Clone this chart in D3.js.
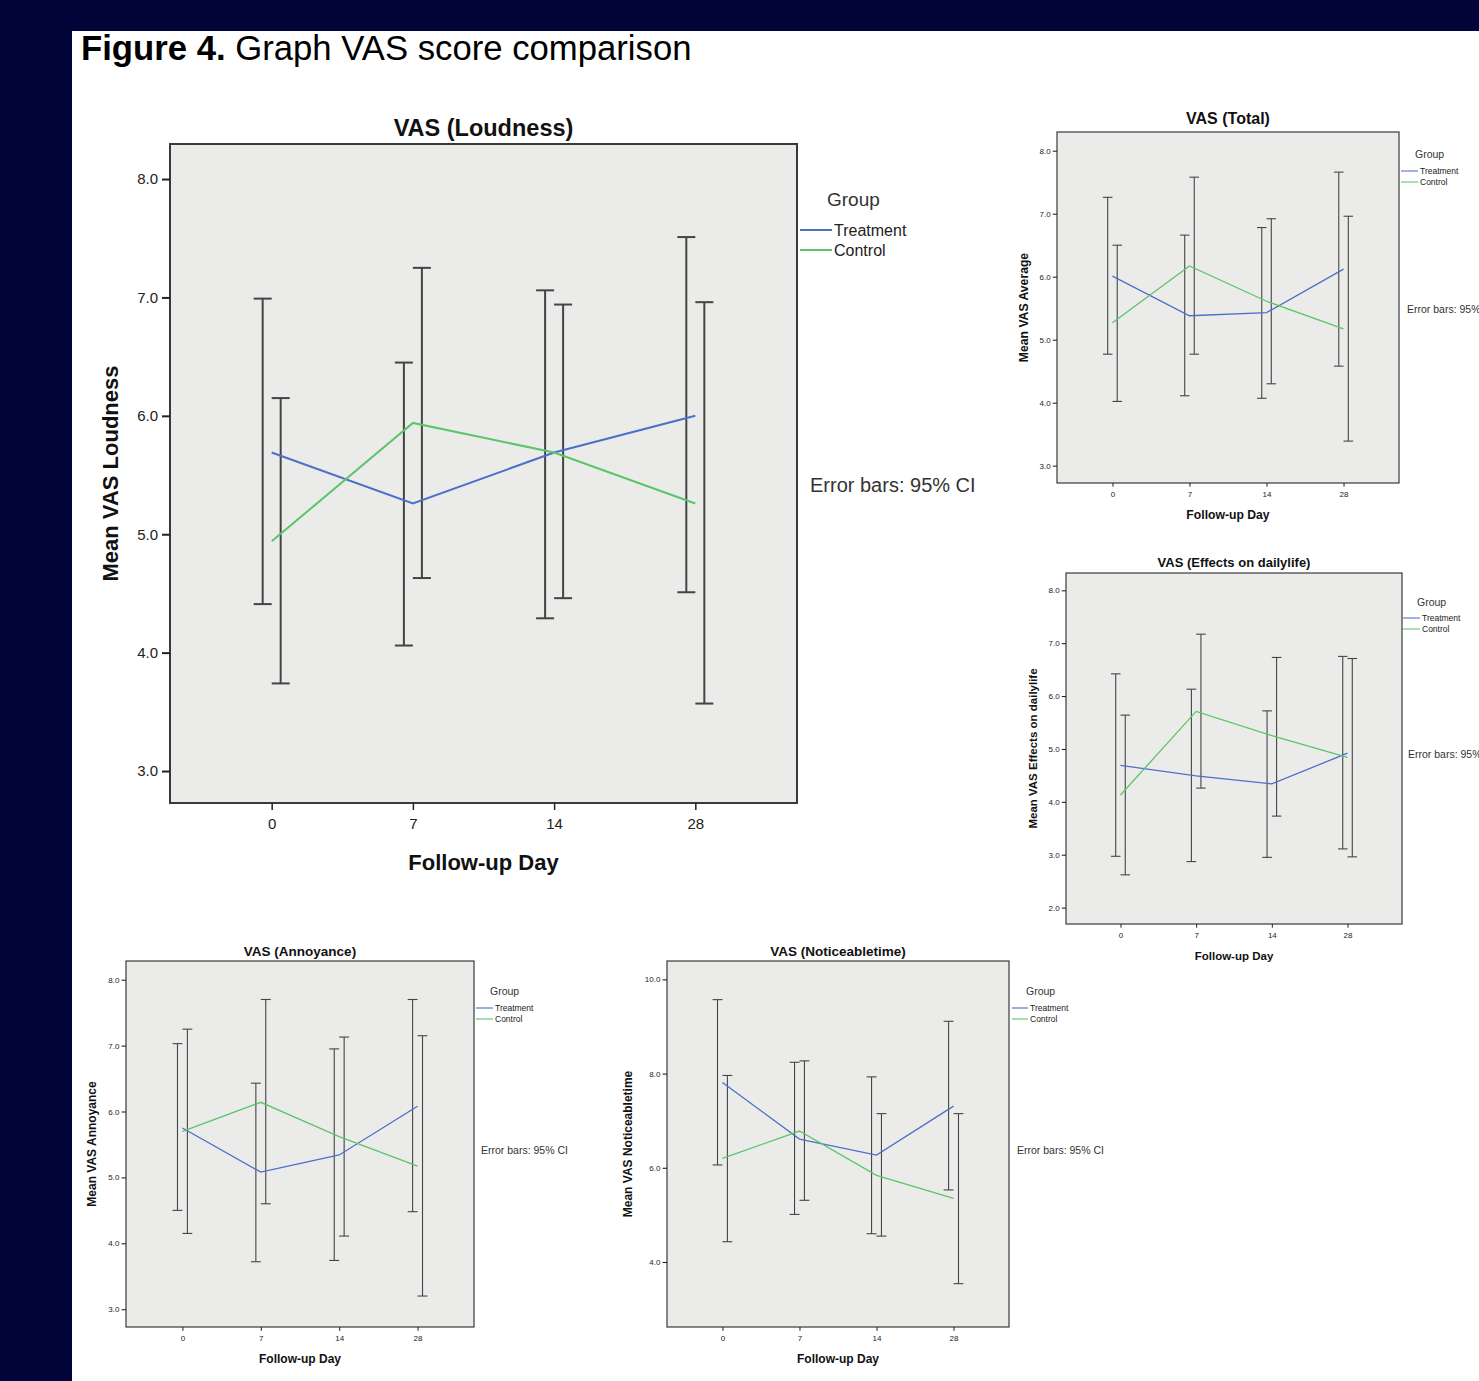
<!DOCTYPE html>
<html><head><meta charset="utf-8">
<script src="https://cdn.jsdelivr.net/npm/d3@7"></script>
<style>body{margin:0;background:#fff;} svg{display:block;font-family:"Liberation Sans",Arial,sans-serif;}</style>
</head><body><svg id="c" width="1479" height="1381"></svg>
<script>
// ---------- data ----------
const days = ["0","7","14","28"];
const groups = ["Treatment","Control"];
const ticks3to8 = [3,4,5,6,7,8];
const ticks2to8 = [2,3,4,5,6,7,8];
const ticks4to10 = [4,6,8,10];

// VAS (Loudness)
const loudTreatMean = [5.69, 5.26, 5.69, 6.00];
const loudTreatLow  = [4.41, 4.06, 4.29, 4.51];
const loudTreatHigh = [6.99, 6.45, 7.06, 7.51];
const loudCtrlMean  = [4.94, 5.94, 5.69, 5.26];
const loudCtrlLow   = [3.74, 4.63, 4.46, 3.57];
const loudCtrlHigh  = [6.15, 7.25, 6.94, 6.96];

// VAS (Total)
const totTreatMean = [6.01, 5.38, 5.43, 6.12];
const totTreatLow  = [4.77, 4.11, 4.07, 4.58];
const totTreatHigh = [7.26, 6.66, 6.78, 7.66];
const totCtrlMean  = [5.27, 6.17, 5.61, 5.17];
const totCtrlLow   = [4.02, 4.77, 4.30, 3.39];
const totCtrlHigh  = [6.50, 7.58, 6.92, 6.96];

// VAS (Effects on dailylife)
const effTreatMean = [4.69, 4.49, 4.34, 4.92];
const effTreatLow  = [2.97, 2.87, 2.95, 3.11];
const effTreatHigh = [6.42, 6.13, 5.72, 6.75];
const effCtrlMean  = [4.13, 5.71, 5.25, 4.84];
const effCtrlLow   = [2.62, 4.26, 3.73, 2.96];
const effCtrlHigh  = [5.64, 7.17, 6.73, 6.71];

// VAS (Annoyance)
const annTreatMean = [5.75, 5.08, 5.34, 6.08];
const annTreatLow  = [4.50, 3.72, 3.74, 4.48];
const annTreatHigh = [7.03, 6.43, 6.95, 7.70];
const annCtrlMean  = [5.70, 6.14, 5.62, 5.17];
const annCtrlLow   = [4.15, 4.60, 4.11, 3.20];
const annCtrlHigh  = [7.25, 7.70, 7.13, 7.15];

// VAS (Noticeabletime)
const notTreatMean = [7.81, 6.61, 6.27, 7.31];
const notTreatLow  = [6.06, 5.01, 4.60, 5.53];
const notTreatHigh = [9.57, 8.24, 7.93, 9.11];
const notCtrlMean  = [6.20, 6.78, 5.84, 5.35];
const notCtrlLow   = [4.43, 5.31, 4.55, 3.54];
const notCtrlHigh  = [7.96, 8.27, 7.15, 7.15];

// ---------- style ----------
const BLUE = "#4d6ec9", GREEN = "#5cc46b", NAVY = "#01053a";
const svg = d3.select("#c");

svg.append("rect").attr("x",0).attr("y",0).attr("width",1479).attr("height",1381).attr("fill","#fff");
svg.append("rect").attr("x",0).attr("y",0).attr("width",1479).attr("height",31).attr("fill",NAVY);
svg.append("rect").attr("x",0).attr("y",0).attr("width",72).attr("height",1381).attr("fill",NAVY);
const hdr = svg.append("text").attr("x",81).attr("y",60).attr("font-size",34.7).attr("fill","#000");
hdr.append("tspan").attr("font-weight","bold").text("Figure 4.");
hdr.append("tspan").text(" Graph VAS score comparison");

function drawPanel(p){
  const s = p.s;
  const g = svg.append("g");
  const x = d3.scalePoint().domain(days).range([p.x, p.x+p.w]).padding(0.72);
  const y = d3.scaleLinear().domain(p.domain).range([p.y+p.h, p.y]);

  g.append("rect").attr("x",p.x).attr("y",p.y).attr("width",p.w).attr("height",p.h)
    .attr("fill","#ebecea").attr("stroke","#3a3a3a").attr("stroke-width",Math.max(1.2,2*s));

  const ya = g.append("g").attr("transform",`translate(${p.x},0)`)
    .call(d3.axisLeft(y).tickValues(p.ticks).tickFormat(d3.format(".1f")).tickSize(8*s).tickPadding(4*s));
  ya.select(".domain").remove();
  ya.selectAll("line").attr("stroke","#222").attr("stroke-width",Math.max(1,2*s));
  ya.selectAll("text").attr("font-size",p.tick).attr("fill","#222").attr("font-family","Liberation Sans, Arial, sans-serif");

  const xa = g.append("g").attr("transform",`translate(0,${p.y+p.h})`)
    .call(d3.axisBottom(x).tickSize(7*s).tickPadding(8*s));
  xa.select(".domain").remove();
  xa.selectAll("line").attr("stroke","#222").attr("stroke-width",Math.max(1,1.5*s));
  xa.selectAll("text").attr("font-size",p.tick).attr("fill","#222").attr("font-family","Liberation Sans, Arial, sans-serif");

  const series = [
    {name:groups[0], mean:p.tm, lo:p.tl, hi:p.th, color:BLUE, off:-9*s},
    {name:groups[1], mean:p.cm, lo:p.cl, hi:p.ch, color:GREEN, off:9*s}
  ];
  const cap = 9*s;
  series.forEach(se=>{
    days.forEach((d,i)=>{
      const cx = x(d)+se.off;
      const eb = g.append("g").attr("stroke","#444").attr("stroke-width",Math.max(1.1,2*s));
      eb.append("line").attr("x1",cx).attr("x2",cx).attr("y1",y(se.lo[i])).attr("y2",y(se.hi[i]));
      eb.append("line").attr("x1",cx-cap).attr("x2",cx+cap).attr("y1",y(se.lo[i])).attr("y2",y(se.lo[i]));
      eb.append("line").attr("x1",cx-cap).attr("x2",cx+cap).attr("y1",y(se.hi[i])).attr("y2",y(se.hi[i]));
    });
  });
  const line = d3.line().x((v,i)=>x(days[i])).y(v=>y(v));
  series.forEach(se=>{
    g.append("path").datum(se.mean).attr("d",line).attr("fill","none")
      .attr("stroke",se.color).attr("stroke-width",Math.max(1.3,2*s));
  });

  // title & axis labels
  g.append("text").attr("x",p.x+p.w/2).attr("y",p.y-p.titleOff).attr("text-anchor","middle")
    .attr("font-size",p.titleSize).attr("font-weight","bold").attr("fill","#111").text(p.title);
  g.append("text").attr("transform",`translate(${p.x-p.ylabOff},${p.y+p.h/2}) rotate(-90)`)
    .attr("text-anchor","middle").attr("dominant-baseline","central")
    .attr("font-size",p.labSize).attr("font-weight","bold").attr("fill","#111").text(p.ylab);
  g.append("text").attr("x",p.x+p.w/2).attr("y",p.y+p.h+p.xlabOff).attr("text-anchor","middle")
    .attr("dominant-baseline","central")
    .attr("font-size",p.labSize).attr("font-weight","bold").attr("fill","#111").text("Follow-up Day");

  // legend
  const L = p.leg;
  g.append("text").attr("x",L.gx).attr("y",L.gy).attr("dominant-baseline","central")
    .attr("font-size",L.gsize).attr("fill","#333").text("Group");
  series.forEach((se,i)=>{
    const ly = L.ly + i*L.step;
    g.append("line").attr("x1",L.lx1).attr("x2",L.lx2).attr("y1",ly).attr("y2",ly)
      .attr("stroke",se.color).attr("stroke-width",Math.max(1,2*s));
    g.append("text").attr("x",L.lx2+2).attr("y",ly).attr("dominant-baseline","central")
      .attr("font-size",L.isize).attr("fill","#222").text(se.name);
  });
  g.append("text").attr("x",L.ex).attr("y",L.ey).attr("dominant-baseline","central")
    .attr("font-size",L.esize).attr("fill","#333").text("Error bars: 95% CI");
}

// Main: VAS (Loudness)
drawPanel({x:170,y:144,w:627,h:659,s:1,domain:[2.73,8.296],ticks:ticks3to8,tick:15,
  title:"VAS (Loudness)",titleSize:23.5,titleOff:8,ylab:"Mean VAS Loudness",ylabOff:60,xlabOff:59,labSize:22,
  tm:loudTreatMean,tl:loudTreatLow,th:loudTreatHigh,cm:loudCtrlMean,cl:loudCtrlLow,ch:loudCtrlHigh,
  leg:{gx:827,gy:199,gsize:19,lx1:800,lx2:832,ly:230,step:20,isize:16,ex:810,ey:485,esize:20}});

// VAS (Total)
drawPanel({x:1057,y:132,w:342,h:351,s:0.53,domain:[2.725,8.297],ticks:ticks3to8,tick:8,
  title:"VAS (Total)",titleSize:16,titleOff:8,ylab:"Mean VAS Average",ylabOff:33,xlabOff:32,labSize:12.2,
  tm:totTreatMean,tl:totTreatLow,th:totTreatHigh,cm:totCtrlMean,cl:totCtrlLow,ch:totCtrlHigh,
  leg:{gx:1415,gy:154,gsize:10.5,lx1:1401,lx2:1418,ly:171,step:11,isize:8.5,ex:1407,ey:309,esize:10.5}});

// VAS (Effects on dailylife)
drawPanel({x:1066,y:573,w:336,h:351,s:0.53,domain:[1.69,8.327],ticks:ticks2to8,tick:8,
  title:"VAS (Effects on dailylife)",titleSize:13,titleOff:6,ylab:"Mean VAS Effects on dailylife",ylabOff:33,xlabOff:32,labSize:11.5,
  tm:effTreatMean,tl:effTreatLow,th:effTreatHigh,cm:effCtrlMean,cl:effCtrlLow,ch:effCtrlHigh,
  leg:{gx:1417,gy:602,gsize:10.5,lx1:1403,lx2:1420,ly:618,step:11,isize:8.5,ex:1408,ey:754,esize:10.5}});

// VAS (Annoyance)
drawPanel({x:126,y:961,w:348,h:366,s:0.55,domain:[2.73,8.284],ticks:ticks3to8,tick:8,
  title:"VAS (Annoyance)",titleSize:13.5,titleOff:5,ylab:"Mean VAS Annoyance",ylabOff:34,xlabOff:32,labSize:12,
  tm:annTreatMean,tl:annTreatLow,th:annTreatHigh,cm:annCtrlMean,cl:annCtrlLow,ch:annCtrlHigh,
  leg:{gx:490,gy:991,gsize:10.5,lx1:476,lx2:493,ly:1008,step:11,isize:8.5,ex:481,ey:1150,esize:10.5}});

// VAS (Noticeabletime)
drawPanel({x:667,y:961,w:342,h:366,s:0.55,domain:[2.62,10.39],ticks:ticks4to10,tick:8,
  title:"VAS (Noticeabletime)",titleSize:13.5,titleOff:5,ylab:"Mean VAS Noticeabletime",ylabOff:39,xlabOff:32,labSize:12,
  tm:notTreatMean,tl:notTreatLow,th:notTreatHigh,cm:notCtrlMean,cl:notCtrlLow,ch:notCtrlHigh,
  leg:{gx:1026,gy:991,gsize:10.5,lx1:1012,lx2:1028,ly:1008,step:11,isize:8.5,ex:1017,ey:1150,esize:10.5}});
</script></body></html>
